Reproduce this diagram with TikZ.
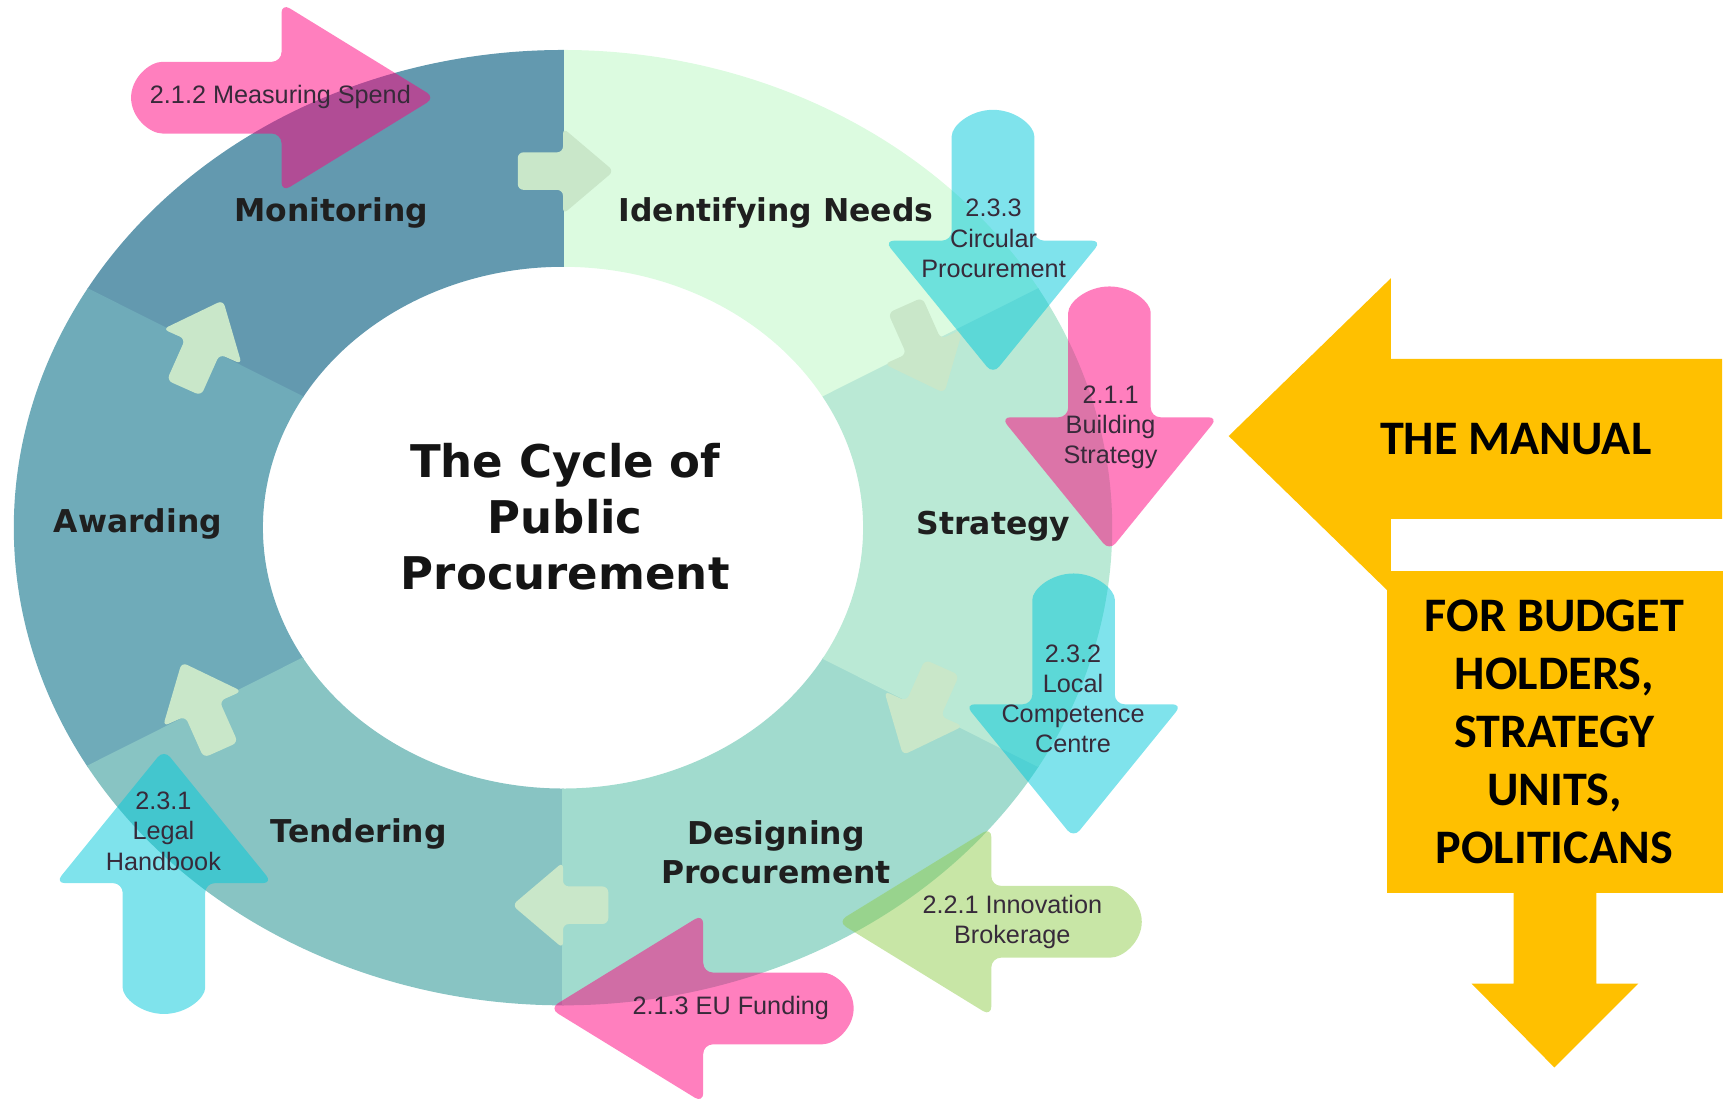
\documentclass[tikz,border=0pt]{standalone}
\usepackage{fontspec}
\setmainfont{Liberation Sans}
\newfontfamily\ringfont{DejaVu Sans}
\newfontfamily\manualfont{Carlito}
\usepackage{tikz}

\definecolor{colNeeds}{HTML}{DCFBE0}
\definecolor{colMonit}{HTML}{6399AF}
\definecolor{colAward}{HTML}{6FABB9}
\definecolor{colTender}{HTML}{88C4C3}
\definecolor{colDesign}{HTML}{A1DBCE}
\definecolor{colStrat}{HTML}{BAE9D5}
\definecolor{ringgreen}{HTML}{C9E7C9}
\definecolor{pinkbase}{RGB}{255,0,125}
\definecolor{cyanbase}{RGB}{0,200,218}
\definecolor{limebase}{RGB}{145,205,78}
\definecolor{manualgold}{HTML}{FFC000}
\definecolor{subtext}{RGB}{55,42,58}

\tikzset{
    stage/.style={font=\ringfont\bfseries\fontsize{8.1}{10}\selectfont, text=black!88, align=center},
    title/.style={font=\ringfont\bfseries\fontsize{11.6}{14.4}\selectfont, text=black!92, align=center},
    sublabel/.style={font=\fontsize{6.5}{7.8}\selectfont, text=subtext, align=center},
    manualtext/.style={font=\manualfont\bfseries\fontsize{12.4}{14.9}\selectfont, align=center},
    pinkarr/.style={fill=pinkbase, fill opacity=0.5},
    cyanarr/.style={fill=cyanbase, fill opacity=0.5},
    limearr/.style={fill=limebase, fill opacity=0.5},
    pics/subarrow/.style={code={
        \fill[#1, rounded corners=2.5pt] (0,32.5) -- (-86,32.5) arc[start angle=90, end angle=270, radius=32.5]
            -- (0,-32.5) -- (0,-85.5) -- (121,0) -- (0,85.5) -- cycle;
    }},
    pics/ringarrow/.style={code={
        \fill[ringgreen, rounded corners=1.5pt] (0,17) -- (-41,17) -- (-41,-17) -- (0,-17)
            -- (0,-39) -- (46,0) -- (0,39) -- cycle;
    }}
}

\begin{document}
\begin{tikzpicture}[x=0.01cm, y=0.01cm]
    \useasboundingbox (0,0) rectangle (1568,998);

    % the cycle
    \begin{scope}[shift={(510,520)}, xscale=1.15]
        \foreach \a/\col in {30/colNeeds,90/colMonit,150/colAward,210/colTender,270/colDesign,330/colStrat}
            \filldraw[fill=\col, draw=\col, line width=0.4pt] (\a:432) arc[start angle=\a, delta angle=60, radius=432]
                -- ({\a+60}:237) arc[start angle={\a+60}, delta angle=-60, radius=237] -- cycle;
        \foreach \a/\r/\d in {90/323/0,30/328/-6,-30/328/6,-90/342/0,-150/328/-6,150/328/6}
            \pic[rotate=\a-90+\d] at (\a:\r) {ringarrow};
    \end{scope}

    % sub-chapter arrows
    \pic[xscale=1.15] at (255,909.5) {subarrow=pinkarr};
    \pic[xscale=1.15, rotate=-90] at (899.5,780) {subarrow=cyanarr};
    \pic[xscale=1.15, rotate=-90] at (1005,620) {subarrow=pinkarr};
    \pic[xscale=1.15, rotate=-90] at (972.5,360) {subarrow=cyanarr};
    \pic[xscale=1.15, rotate=180] at (898,163) {subarrow=limearr};
    \pic[xscale=1.15, rotate=180] at (637,84.5) {subarrow=pinkarr};
    \pic[xscale=1.15, rotate=90] at (148.5,198) {subarrow=cyanarr};

    \node[stage] (monit) at (300,805) {Monitoring};
    \node[stage] (needs) at (703,805) {Identifying Needs};
    \node[stage] (strat) at (900,521) {Strategy};
    \node[stage] (design) at (703,226) {Designing\\Procurement};
    \node[stage] (tender) at (325,243) {Tendering};
    \node[stage] (award) at (125,523) {Awarding};
    \node[title] (cycle) at (512,530) {The Cycle of\\Public\\Procurement};

    \node[sublabel] (l212) at (254,910) {2.1.2 Measuring Spend};
    \node[sublabel] (l233) at (900,782) {2.3.3\\Circular\\Procurement};
    \node[sublabel] (l211) at (1006,611) {2.1.1\\Building\\Strategy};
    \node[sublabel] (l232) at (972,365) {2.3.2\\Local\\Competence\\Centre};
    \node[sublabel] (l221) at (917,163) {2.2.1 Innovation\\Brokerage};
    \node[sublabel] (l213) at (662,85) {2.1.3 EU Funding};
    \node[sublabel] (l231) at (148,245) {2.3.1\\Legal\\Handbook};

    % the manual
    \fill[manualgold] (1113,603) -- (1260,746) -- (1260,673) -- (1560,673) -- (1560,528)
        -- (1260,528) -- (1260,460) -- cycle;
    \fill[manualgold] (1256,481) rectangle (1561,189);
    \fill[manualgold] (1371,190) -- (1371,107) -- (1333,107) -- (1408,31) -- (1484,107)
        -- (1446,107) -- (1446,190) -- cycle;
    \node[manualtext] (manual) at (1373,600) {THE MANUAL};
    \node[manualtext] (readers) at (1408,335) {FOR BUDGET\\HOLDERS,\\STRATEGY\\UNITS,\\POLITICANS};

\end{tikzpicture}
\end{document}
